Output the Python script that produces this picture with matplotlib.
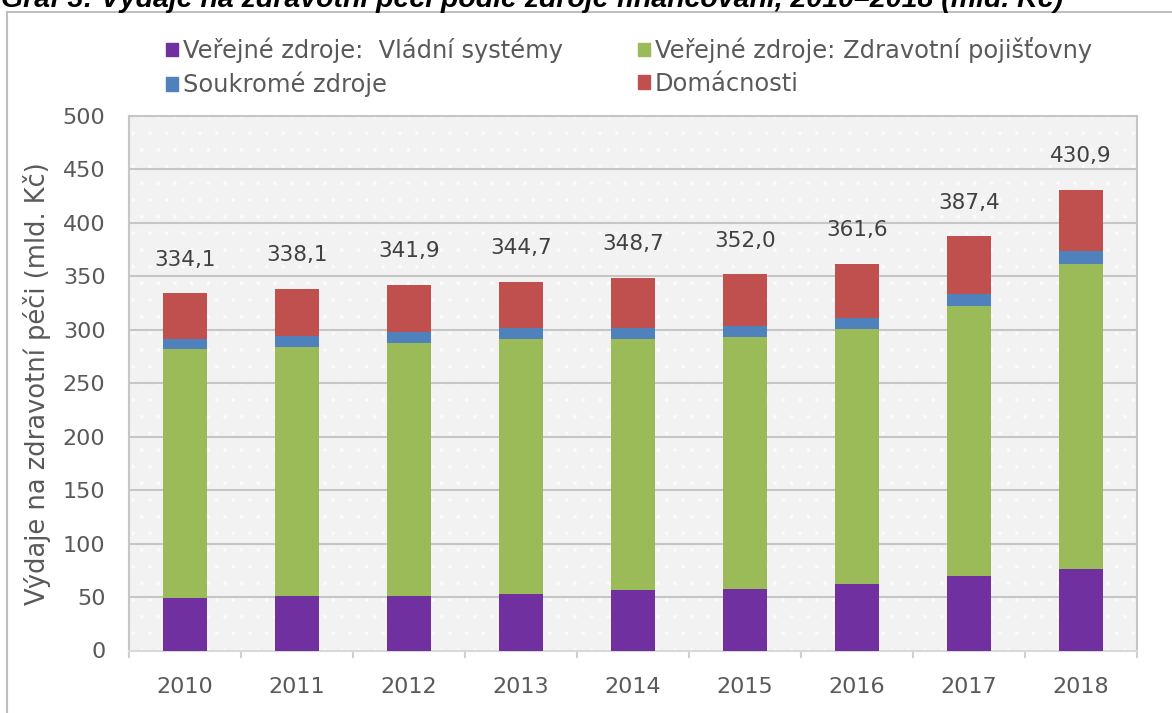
import numpy as np
import matplotlib
matplotlib.use('Agg')
import matplotlib.pyplot as plt
from matplotlib.patches import Rectangle, Patch
from matplotlib.lines import Line2D

years=['2010','2011','2012','2013','2014','2015','2016','2017','2018']
vladniSystemy=[49.5,50.8,51.0,53.0,57.0,57.5,62.0,69.5,76.5]
pojistovny=[232.3,233.5,237.0,238.8,234.8,235.5,238.5,252.5,285.5]
soukrome=[10.0,9.9,10.0,9.9,10.2,10.3,10.2,11.5,11.4]
domacnosti=[42.3,43.9,43.9,43.0,46.7,48.7,50.9,53.9,57.5]
yTicks=[0,50,100,150,200,250,300,350,400,450,500]

colors=['#7030a0','#9bbb59','#4f81bd','#c0504d']
textGray='#595959'
lineGray='#c6c6c6'

plt.rcParams['font.family']=['DejaVu Sans']

fig=plt.figure(figsize=(11.72,7.13),dpi=100)
ax=fig.add_axes([129/1172,1-650.5/713,(1137-129)/1172,(650.5-116)/713])

x=np.arange(len(years))
w=0.40
b1=np.array(vladniSystemy)
b2=b1+np.array(pojistovny)
b3=b2+np.array(soukrome)
tot=b3+np.array(domacnosti)

ax.bar(x,vladniSystemy,w,color=colors[0],zorder=3)
ax.bar(x,pojistovny,w,bottom=b1,color=colors[1],zorder=3)
ax.bar(x,soukrome,w,bottom=b2,color=colors[2],zorder=3)
ax.bar(x,domacnosti,w,bottom=b3,color=colors[3],zorder=3)

for i,t in enumerate(tot):
    ax.annotate(f'{t:.1f}'.replace('.',','),(x[i],t),xytext=(0,17),textcoords='offset points',
                ha='center',va='bottom',fontsize=15.5,color='#404040',zorder=4)

# background with white dots
ax.set_facecolor('#f2f2f2')
plt.rcParams['hatch.linewidth']=0.2
ax.add_patch(Rectangle((0,0),1,1,transform=ax.transAxes,facecolor='none',edgecolor='#fbfbfb',
                       hatch='.',linewidth=0,zorder=0))

ax.set_xlim(-0.5,len(years)-0.5)
ax.set_ylim(0,500)
ax.set_yticks(yTicks)
ax.set_xticks(x)
ax.set_xticklabels(years)
ax.set_xticks(np.arange(len(years)+1)-0.5,minor=True)
ax.tick_params(axis='y',length=0,pad=17,labelsize=16,labelcolor=textGray)
ax.tick_params(axis='x',which='major',length=0,pad=19,labelsize=16,labelcolor=textGray)
ax.tick_params(axis='x',which='minor',length=5,width=1.5,color='#d0d0d0')
ax.grid(axis='y',color=lineGray,linewidth=1.5,zorder=1)
ax.set_axisbelow(True)
for s in ax.spines.values():
    s.set_color(lineGray)
    s.set_linewidth(1.5)
ax.spines['bottom'].set_color('#d9d9d9')

ax.set_ylabel('Výdaje na zdravotní péči (mld. Kč)',fontsize=18.5,color=textGray)
ax.yaxis.set_label_coords(-0.077,0.5)

handles=[Patch(color=colors[0]),Patch(color=colors[2]),Patch(color=colors[1]),Patch(color=colors[3])]
labels=['Veřejné zdroje:  Vládní systémy','Soukromé zdroje','Veřejné zdroje: Zdravotní pojišťovny','Domácnosti']
leg=fig.legend(handles,labels,ncol=2,loc='upper left',bbox_to_anchor=(166/1172,1-37/713),frameon=False,
               fontsize=17.4,handlelength=0.5,handleheight=0.5,handletextpad=0.2,columnspacing=3.1,
               labelspacing=0.37,borderpad=0,borderaxespad=0)
for t in leg.get_texts():
    t.set_color(textGray)

# outer frame (top and left visible)
fig.add_artist(Line2D([7/1172,1],[1-12/713,1-12/713],transform=fig.transFigure,color='#bfbfbf',lw=1.5))
fig.add_artist(Line2D([7/1172,7/1172],[0,1-12/713],transform=fig.transFigure,color='#bfbfbf',lw=1.5))

fig.text(0.001,1-7/713,'Graf 3: Výdaje na zdravotní péči podle zdroje financování, 2010–2018 (mld. Kč)',
         fontsize=20.5,fontweight='bold',style='italic',family='Liberation Sans',va='baseline',ha='left')

fig.savefig('out.png',dpi=100)
